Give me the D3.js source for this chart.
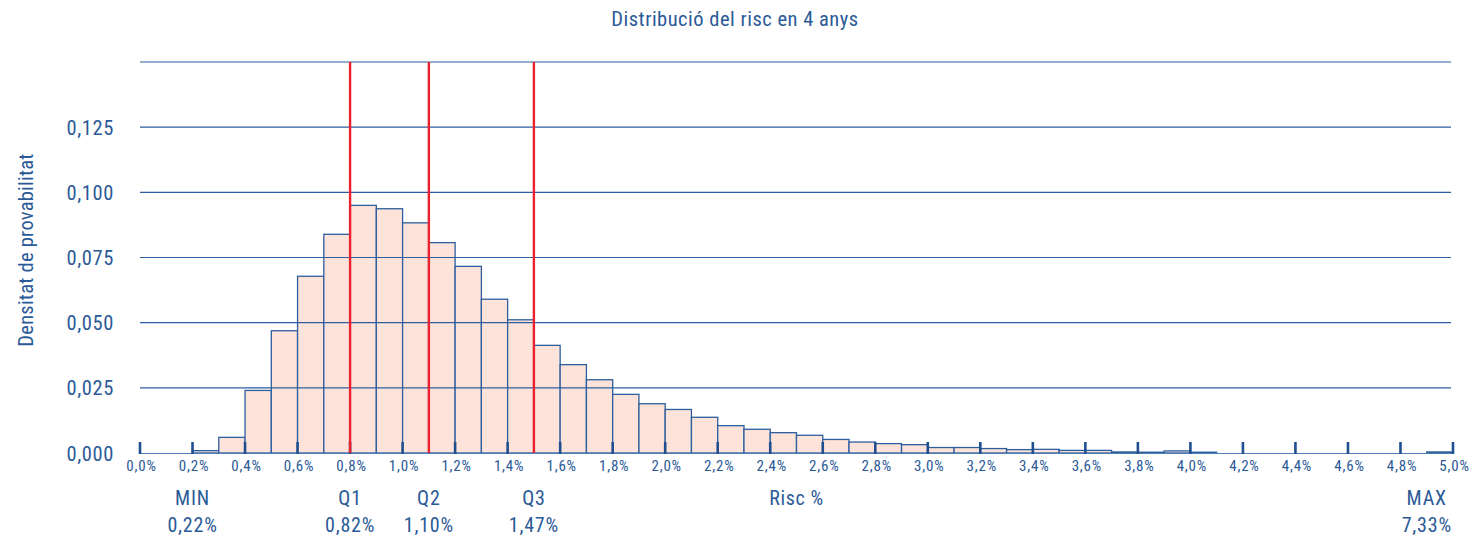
<!DOCTYPE html>
<html><head><meta charset="utf-8">
<script src="https://cdn.jsdelivr.net/npm/d3@7"></script>
<style>
html,body{margin:0;padding:0;background:#fff;}
svg text{font-family:"Roboto Condensed","Roboto",sans-serif;font-stretch:condensed;fill:#2b5a97;}
</style></head>
<body><svg id="chart" width="1469" height="540"></svg>
<script>
const title = "Distribució del risc en 4 anys";
const yLabel = "Densitat de provabilitat";
const xLabel = "Risc %";
const binStarts = [0.0,0.1,0.2,0.3,0.4,0.5,0.6,0.7,0.8,0.9,1.0,1.1,1.2,1.3,1.4,1.5,1.6,1.7,1.8,1.9,2.0,2.1,2.2,2.3,2.4,2.5,2.6,2.7,2.8,2.9,3.0,3.1,3.2,3.3,3.4,3.5,3.6,3.7,3.8,3.9,4.0,4.1,4.2,4.3,4.4,4.5,4.6,4.7,4.8,4.9];
const density = [0,0,0.0009,0.006,0.024,0.0469,0.0678,0.0839,0.095,0.0937,0.0883,0.0807,0.0716,0.059,0.0511,0.0413,0.0339,0.0281,0.0225,0.0189,0.0167,0.0137,0.0105,0.0091,0.0078,0.0068,0.0052,0.0042,0.0036,0.0032,0.0021,0.0021,0.0017,0.0013,0.0014,0.001,0.001,0.0004,0.0003,0.0008,0.0003,0,0,0,0,0,0,0,0,0.0004];
const binWidth = 0.1;
const yTicks = [0,0.025,0.05,0.075,0.1,0.125];
const yGrid = [0.025,0.05,0.075,0.1,0.125,0.15];
const xTicks = [0.0,0.2,0.4,0.6,0.8,1.0,1.2,1.4,1.6,1.8,2.0,2.2,2.4,2.6,2.8,3.0,3.2,3.4,3.6,3.8,4.0,4.2,4.4,4.6,4.8,5.0];
const statNames = ["MIN","Q1","Q2","Q3","MAX"];
const statValues = [0.22,0.82,1.10,1.47,7.33];
const quartileIdx = [1,2,3];

const svg = d3.select("#chart");
const x = d3.scaleLinear().domain([0,5]).range([140,1453]);
const y = d3.scaleLinear().domain([0,0.15]).range([453,62]);
const comma = s => s.replace(".", ",");

// title
svg.append("text").attr("x",735).attr("y",26).attr("text-anchor","middle")
  .style("font-size","20.5px").style("letter-spacing","0.5px").text(title);

// y label
svg.append("text").attr("transform","translate(32.5,250) rotate(-90)").attr("text-anchor","middle")
  .style("font-size","20.5px").style("letter-spacing","0.25px").text(yLabel);

// bars
svg.append("g").selectAll("rect")
  .data(binStarts.map((b,i)=>({b, v:density[i]})).filter(d=>d.v>0))
  .join("rect")
  .attr("x", d=>x(d.b)).attr("width", d=>x(d.b+binWidth)-x(d.b))
  .attr("y", d=>y(d.v)).attr("height", d=>y(0)-y(d.v))
  .attr("fill","#fde3da").attr("stroke","#2d5e9e").attr("stroke-width",1.3);

// gridlines
svg.append("g").selectAll("line").data(yGrid).join("line")
  .attr("x1",x(0)).attr("x2",x(5)-2).attr("y1",d=>y(d)).attr("y2",d=>y(d))
  .attr("stroke","#2d5e9e").attr("stroke-width",1.1);

// baseline
svg.append("line").attr("x1",x(0)).attr("x2",x(5)).attr("y1",y(0)+0.5).attr("y2",y(0)+0.5)
  .attr("stroke","#4f7db5").attr("stroke-width",1.2);

// y tick labels
svg.append("g").selectAll("text").data(yTicks).join("text")
  .attr("x",114).attr("y",d=>y(d)+7.5).attr("text-anchor","end")
  .style("font-size","20.5px").style("letter-spacing","0.6px").text(d=>comma(d3.format(".3f")(d)));

// x ticks
const xt = svg.append("g");
xt.selectAll("line").data(xTicks).join("line")
  .attr("x1",d=>x(d)).attr("x2",d=>x(d)).attr("y1",y(0)+1).attr("y2",y(0)-11)
  .attr("stroke","#1f4f8f").attr("stroke-width",2.6);
xt.selectAll("text").data(xTicks).join("text")
  .attr("x",d=>x(d)+1.5).attr("y",470.5).attr("text-anchor","middle")
  .style("font-size","15px").style("letter-spacing","0.8px").text(d=>comma(d3.format(".1f")(d))+"%");

// quartile lines
svg.append("g").selectAll("line").data(quartileIdx).join("line")
  .attr("x1",i=>x(Math.round(statValues[i]*10)/10)).attr("x2",i=>x(Math.round(statValues[i]*10)/10))
  .attr("y1",y(0.15)).attr("y2",y(0))
  .attr("stroke","#ea2230").attr("stroke-width",2.4);

// stat labels
const pos = v => x(Math.min(Math.round(v*10)/10, 4.9));
const sl = svg.append("g");
sl.selectAll("text.n").data(statNames).join("text").attr("class","n")
  .attr("x",(d,i)=>pos(statValues[i])).attr("y",505).attr("text-anchor","middle")
  .style("font-size","20px").style("letter-spacing","0.8px").text(d=>d);
sl.selectAll("text.v").data(statValues).join("text").attr("class","v")
  .attr("x",d=>pos(d)).attr("y",532).attr("text-anchor","middle")
  .style("font-size","20px").style("letter-spacing","0.8px").text(d=>comma(d3.format(".2f")(d))+"%");
svg.append("text").attr("x",x(2.5)).attr("y",505).attr("text-anchor","middle")
  .style("font-size","20px").style("letter-spacing","0.6px").text(xLabel);
</script></body></html>
